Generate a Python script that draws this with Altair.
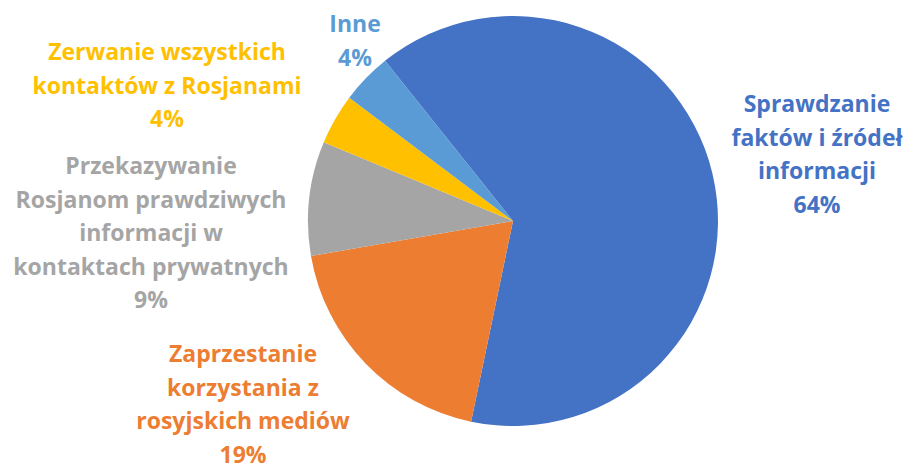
import math
import altair as alt
import pandas as pd

# ---- data ----
categories = [
    "Sprawdzanie faktów i źródeł informacji",
    "Zaprzestanie korzystania z rosyjskich mediów",
    "Przekazywanie Rosjanom prawdziwych informacji w kontaktach prywatnych",
    "Zerwanie wszystkich kontaktów z Rosjanami",
    "Inne",
]
values = [64, 19, 9, 4, 4]
label_lines = [
    "Sprawdzanie\nfaktów i źródeł\ninformacji\n64%",
    "Zaprzestanie\nkorzystania z\nrosyjskich mediów\n19%",
    "Przekazywanie\nRosjanom prawdziwych\ninformacji w\nkontaktach prywatnych\n9%",
    "Zerwanie wszystkich\nkontaktów z Rosjanami\n4%",
    "Inne\n4%",
]

# ---- styles / layout ----
colors = ["#4472C4", "#ED7D31", "#A5A5A5", "#FFC000", "#5B9BD5"]
CX, CY, R = 505, 213, 205
start = math.radians(-38.6)
# first-line centres of each label block, offsets from pie centre (pixels)
label_offsets = [(304, -116), (-270, 134), (-362, -54), (-346, -168), (-158, -196)]

df = pd.DataFrame({"cat": categories, "value": values, "order": list(range(len(values)))})
lab = pd.DataFrame({
    "text": label_lines,
    "col": colors,
    "lx": [CX + dx for dx, dy in label_offsets],
    "ly": [CY + dy for dx, dy in label_offsets],
})

shadow = alt.Chart(pd.DataFrame({"v": [1]})).mark_arc(
    color="#000000", opacity=0.06, outerRadius=R + 3
).encode(theta=alt.Theta("v:Q"), x=alt.value(CX + 1), y=alt.value(CY + 2))

pie = alt.Chart(df).mark_arc(outerRadius=R).encode(
    theta=alt.Theta("value:Q", stack=True,
                    scale=alt.Scale(range=[start, start + 2 * math.pi])),
    color=alt.Color("cat:N", scale=alt.Scale(domain=categories, range=colors), legend=None),
    order=alt.Order("order:Q"),
    x=alt.value(CX),
    y=alt.value(CY),
)

labels = alt.Chart(lab).mark_text(
    lineBreak="\n", lineHeight=33.5, align="center", baseline="middle",
    font="Open Sans", fontWeight="bold", fontSize=23,
).encode(
    x=alt.X("lx:Q", scale=None),
    y=alt.Y("ly:Q", scale=None),
    text="text:N",
    color=alt.Color("col:N", scale=None),
)

chart = alt.layer(shadow, pie, labels).properties(
    width=898, height=459, padding=0, autosize="none", background="white"
).configure_view(stroke=None)

chart.save("out.html", embed_options={"renderer": "svg", "actions": False})
